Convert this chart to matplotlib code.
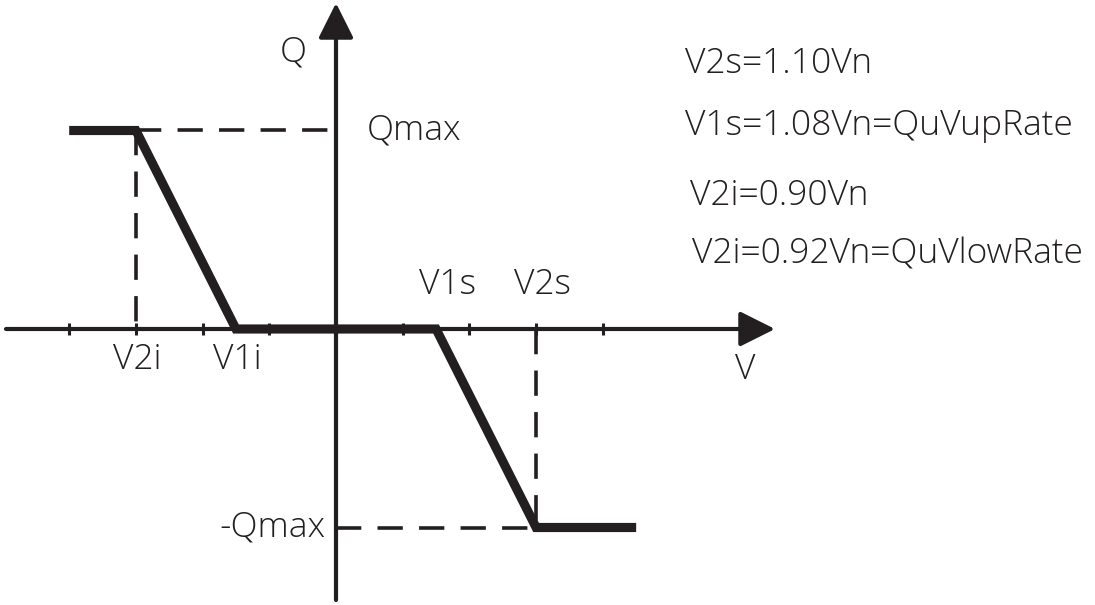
import matplotlib
matplotlib.use("Agg")
import matplotlib.pyplot as plt

# Q(U) characteristic data (V in tick units, Q in Qmax units)
curve_v = [-4, -3, -1.5, 1.5, 3, 4.5]
curve_q = [1, 1, 0, 0, -1, -1]
tick_positions = [-4, -3, -2, -1, 1, 2, 3, 4]
qmax = 1.0
v2i, v1i, v1s, v2s = -3, -1.5, 1.5, 3
notes = ["V2s=1.10Vn", "V1s=1.08Vn=QuVupRate", "V2i=0.90Vn", "V2i=0.92Vn=QuVlowRate"]

INK = "#231f20"
FONT = ["Open Sans", "DejaVu Sans"]

fig = plt.figure(figsize=(10.95, 6.05), dpi=100)
ax = fig.add_axes([0, 0, 1, 1])
ux, uy = 66.7, 198.5
ox, oy = 336, 329
ax.set_xlim((0 - ox) / ux, (1095 - ox) / ux)
ax.set_ylim((oy - 605) / uy, (oy - 0) / uy)
ax.axis("off")

def px(x):
    return (x - ox) / ux

def py(y):
    return (oy - y) / uy

# axes with arrows
ax.annotate("", xy=(px(775), 0), xytext=(px(6), 0),
            arrowprops=dict(arrowstyle="-|>", mutation_scale=54, lw=3, color=INK,
                            shrinkA=0, shrinkB=0))
ax.annotate("", xy=(0, py(3)), xytext=(0, py(600)),
            arrowprops=dict(arrowstyle="-|>", mutation_scale=54, lw=3, color=INK,
                            shrinkA=0, shrinkB=0))

# ticks on V axis
tick_h = 6 / uy
for t in tick_positions:
    ax.plot([t, t], [-tick_h, tick_h], color=INK, lw=2.2, solid_capstyle="butt")

# dashed guide lines
dash = dict(color=INK, lw=2.6, dashes=(7, 4.5))
ax.plot([v2i, 0], [qmax, qmax], **dash)
ax.plot([v2i, v2i], [qmax, 0], **dash)
ax.plot([0, v2s], [-qmax, -qmax], **dash)
ax.plot([v2s, v2s], [0, -qmax], **dash)

# characteristic curve
ax.plot(curve_v, curve_q, color=INK, lw=6.6, solid_joinstyle="miter", solid_capstyle="butt")

fs = 25.5
tkw = dict(color=INK, fontsize=fs, family=FONT, fontweight="light")
ax.text(px(293), py(52), "Q", ha="center", va="center", **tkw)
ax.text(px(367), qmax, "Qmax", ha="left", va="center", **tkw)
ax.text(px(326), -qmax, "-Qmax", ha="right", va="center", **tkw)
ax.text(px(137), py(360), "V2i", ha="center", va="center", **tkw)
ax.text(px(237), py(360), "V1i", ha="center", va="center", **tkw)
ax.text(px(448), py(285), "V1s", ha="center", va="center", **tkw)
ax.text(px(543), py(285), "V2s", ha="center", va="center", **tkw)
ax.text(px(745), py(370), "V", ha="center", va="center", **tkw)

note_y = [64, 126, 196, 254]
note_x = [685, 685, 690, 692]
for s, xx, yy in zip(notes, note_x, note_y):
    ax.text(px(xx), py(yy), s, ha="left", va="center", **tkw)

fig.savefig("out.png", dpi=100, facecolor="white")
